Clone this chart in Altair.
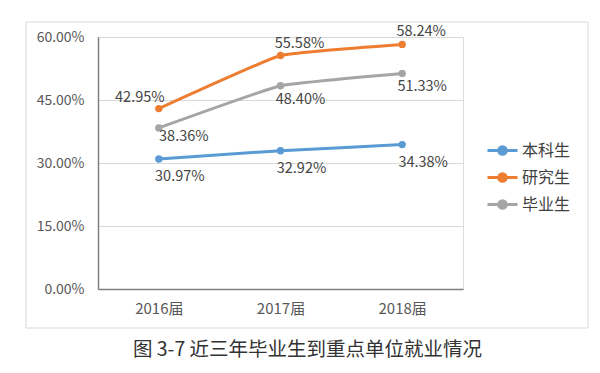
import altair as alt
import pandas as pd

years = ["2016届", "2017届", "2018届"]
series = ["本科生", "研究生", "毕业生"]
undergrad = [30.97, 32.92, 34.38]
graduate = [42.95, 55.58, 58.24]
overall = [38.36, 48.40, 51.33]
colors = ["#5b9bd5", "#ed7d31", "#a5a5a5"]
y_ticks = [0, 0.15, 0.30, 0.45, 0.60]
title_text = "图 3-7 近三年毕业生到重点单位就业情况"

rows = []
for s, vals in zip(series, [undergrad, graduate, overall]):
    for yr, v in zip(years, vals):
        rows.append({"year": yr, "series": s, "value": v / 100})
df = pd.DataFrame(rows)

FONT = "Noto Sans CJK SC"
TXT = "#595959"

x_enc = alt.X(
    "year:N", sort=years,
    scale=alt.Scale(type="point", padding=0.5),
    axis=alt.Axis(title=None, labelAngle=0, ticks=False, grid=False,
                  domainColor="#7f7f7f", domainWidth=1.5,
                  labelFontSize=15, labelColor=TXT, labelPadding=12, labelFont=FONT),
)
y_enc = alt.Y(
    "value:Q",
    scale=alt.Scale(domain=[0, 0.6], nice=False),
    axis=alt.Axis(title=None, values=y_ticks, format=".2%", ticks=False,
                  domainColor="#7f7f7f", domainWidth=1.5,
                  gridColor="#d9d9d9", gridWidth=1,
                  labelFontSize=14, labelColor=TXT, labelPadding=14, labelFont=FONT),
)
legend_path = "M-1,0L1,0M0.25,0A0.25,0.25,0,1,1,-0.25,0A0.25,0.25,0,1,1,0.25,0Z"
leg = alt.Legend(
    title=None, orient="none", legendX=388, legendY=97,
    symbolType=legend_path, symbolSize=900, symbolStrokeWidth=3, symbolOpacity=1,
    labelFontSize=16, labelColor="#404040", labelFont=FONT, labelOffset=3,
    rowPadding=-3,
)
stroke_enc = alt.Stroke("series:N", sort=series,
                        scale=alt.Scale(domain=series, range=colors), legend=leg)
fill_enc = alt.Fill("series:N", sort=series,
                    scale=alt.Scale(domain=series, range=colors), legend=leg)

base = alt.Chart(df)

frame = alt.Chart(pd.DataFrame({"a": [0]})).mark_rect(
    fill=None, stroke="#d9d9d9", strokeWidth=1
).encode(x=alt.value(-72), x2=alt.value(490), y=alt.value(-15), y2=alt.value(291))

lines = base.mark_line(strokeWidth=3, interpolate="cardinal", tension=0.7).encode(
    x=x_enc, y=y_enc, stroke=stroke_enc)
points = base.mark_circle(size=55, opacity=1).encode(
    x=x_enc, y=y_enc, fill=fill_enc)


def labels(data_filter, dx, dy):
    return base.transform_filter(data_filter).mark_text(
        fontSize=14.5, color="#454545", font=FONT, dx=dx, dy=dy
    ).encode(x=alt.X("year:N", sort=years), y="value:Q",
             text=alt.Text("value:Q", format=".2%"))


lab_orange_first = labels((alt.datum.series == "研究生") & (alt.datum.year == "2016届"), -19, -11)
lab_orange = labels((alt.datum.series == "研究生") & (alt.datum.year != "2016届"), 19, -12)
lab_gray_first = labels((alt.datum.series == "毕业生") & (alt.datum.year == "2016届"), 25, 9)
lab_gray = labels((alt.datum.series == "毕业生") & (alt.datum.year != "2016届"), 20, 14)
lab_blue = labels(alt.datum.series == "本科生", 21, 18)

chart = alt.layer(
    frame, lines, points, lab_orange_first, lab_orange, lab_gray_first, lab_gray, lab_blue
).properties(
    width=365, height=252,
    autosize=alt.AutoSizeParams(type="none"),
    padding={"left": 90, "top": 29, "right": 129, "bottom": 76},
    title=alt.TitleParams(title_text, orient="bottom", anchor="middle", dx=27, offset=12,
                          fontSize=19.5, fontWeight="normal", color="#333333", font=FONT),
).configure_view(stroke=None).configure(background="white")

chart.save("out.html", embed_options={"renderer": "svg", "actions": False})
